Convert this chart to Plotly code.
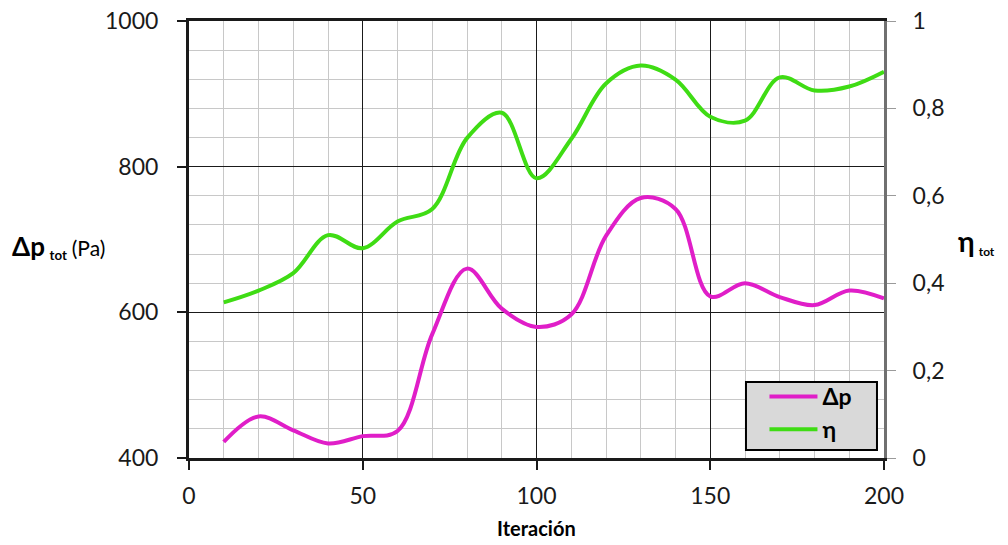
import plotly.graph_objects as go

# Iteration number
iteracion = [10, 20, 30, 40, 50, 60, 70, 80, 90, 100,
             110, 120, 130, 140, 150, 160, 170, 180, 190, 200]
# Total pressure drop (Pa)
delta_p = [422, 457, 438, 420, 430, 437, 570, 660, 605, 580,
           597, 705, 757, 742, 622, 640, 621, 610, 630, 619]
# Total efficiency
eta = [0.356, 0.383, 0.423, 0.510, 0.480, 0.541, 0.570, 0.732, 0.790, 0.640,
       0.730, 0.857, 0.898, 0.866, 0.781, 0.772, 0.871, 0.841, 0.850, 0.884]

FONT = "Lato"
TXT = "#1a1a1a"

fig = go.Figure()
fig.add_trace(go.Scatter(
    x=iteracion, y=delta_p, name="Δp", mode="lines",
    line=dict(color="#e01ec8", width=4, shape="spline", smoothing=1.0),
))
fig.add_trace(go.Scatter(
    x=iteracion, y=eta, name="η", mode="lines", yaxis="y2",
    line=dict(color="#3fdc14", width=4, shape="spline", smoothing=1.0),
))

fig.update_layout(
    width=1008, height=545,
    margin=dict(l=189, r=124, t=21, b=87, autoexpand=False),
    paper_bgcolor="white", plot_bgcolor="white",
    font=dict(family=FONT, color=TXT, size=23),
    showlegend=True,
    legend=dict(
        x=0.828, y=0.19, xanchor="left", yanchor="top",
        bgcolor="rgba(0,0,0,0)", borderwidth=0,
        font=dict(family=FONT, size=23, color="black", weight=700),
        itemwidth=48, tracegroupgap=0,
    ),
    xaxis=dict(
        range=[0, 200], dtick=50, tick0=0, automargin=False,
        showgrid=True, gridcolor="#1a1a1a", gridwidth=1,
        minor=dict(dtick=10, showgrid=True, gridcolor="#c8c8c8", gridwidth=1),
        showline=True, linecolor="#1a1a1a", linewidth=3, mirror=True,
        ticks="outside", ticklen=9, tickwidth=2, tickcolor="#1a1a1a",
        ticklabelstandoff=6,
        tickfont=dict(size=23, color=TXT),
        zeroline=False,
    ),
    yaxis=dict(
        range=[400, 1000], dtick=200, tick0=400, automargin=False,
        showgrid=True, gridcolor="#1a1a1a", gridwidth=1,
        minor=dict(dtick=40, tick0=400, showgrid=True, gridcolor="#c8c8c8", gridwidth=1),
        showline=True, linecolor="#1a1a1a", linewidth=3,
        ticks="outside", ticklen=9, tickwidth=2, tickcolor="#1a1a1a",
        ticklabelstandoff=14,
        tickfont=dict(size=23, color=TXT),
        zeroline=False,
    ),
    yaxis2=dict(
        range=[0, 1], dtick=0.2, tick0=0, overlaying="y", side="right",
        automargin=False,
        showgrid=False, zeroline=False,
        showline=True, linecolor="#707070", linewidth=3,
        ticks="outside", ticklen=9, tickwidth=1, tickcolor="#9a9a9a",
        ticklabelstandoff=12,
        tickfont=dict(size=23, color=TXT),
    ),
    separators=",.",
)

# Legend frame
fig.add_shape(
    type="rect", xref="paper", yref="paper",
    x0=0.8014, x1=0.9899, y0=0.0183, y1=0.1739,
    fillcolor="#d9d9d9", line=dict(color="black", width=2), layer="above",
)

# Axis titles
fig.add_annotation(
    xref="paper", yref="paper", x=-0.258, y=0.485, xanchor="left", yanchor="middle",
    showarrow=False,
    text="<b><span style='font-size:26px'>Δp</span> <sub>tot</sub></b> <span style='font-size:21px'>(Pa)</span>",
    font=dict(family=FONT, size=19, color="black"),
)
fig.add_annotation(
    xref="paper", yref="paper", x=1.104, y=0.495, xanchor="left", yanchor="middle",
    showarrow=False,
    text="<b><span style='font-size:28px'>η</span> <sub>tot</sub></b>",
    font=dict(family=FONT, size=17, color="black"),
)
fig.add_annotation(
    xref="paper", yref="paper", x=0.5, y=-0.16, xanchor="center", yanchor="middle",
    showarrow=False, text="<b>Iteración</b>",
    font=dict(family=FONT, size=20, color="black"),
)

fig.write_html("out.html")
